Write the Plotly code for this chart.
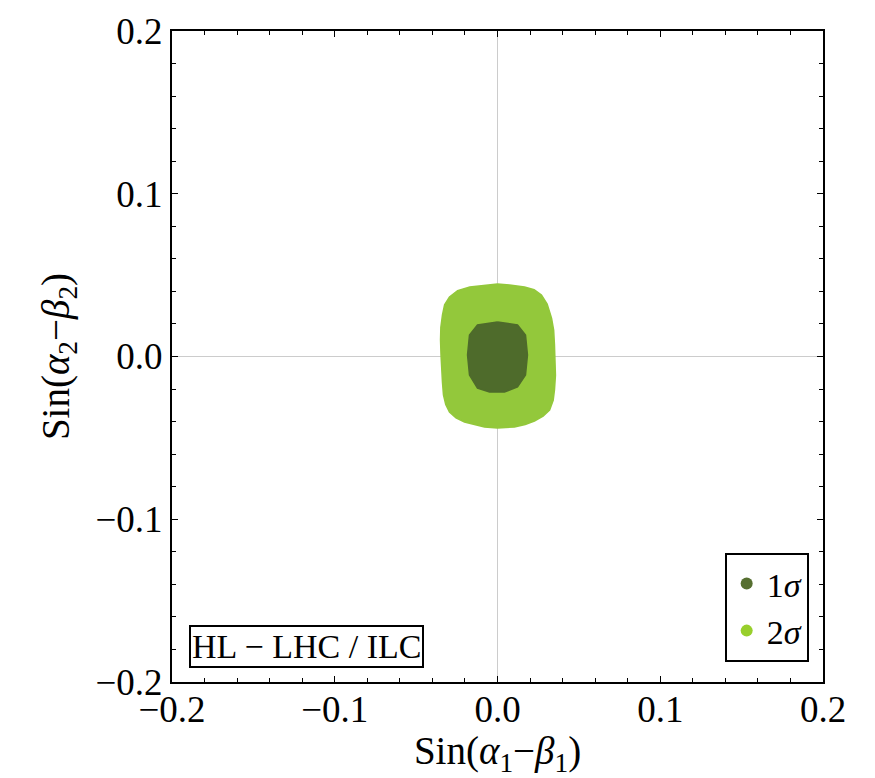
import plotly.graph_objects as go

# Outline of the 2-sigma allowed region (sin(a1-b1), sin(a2-b2))
outer_x = [0.0, -0.009, -0.017, -0.0245, -0.0295, -0.0325, -0.0338, -0.0348, -0.035, -0.0347,
           -0.0344, -0.0338, -0.0332, -0.0318, -0.0295, -0.0255, -0.0203, -0.014, -0.008,
           0.0, 0.0104, 0.017, 0.0227, 0.028, 0.032, 0.0342, 0.035, 0.0356, 0.0354, 0.035,
           0.0345, 0.0332, 0.0305, 0.027, 0.0225, 0.0166, 0.0074]
outer_y = [0.0445, 0.0437, 0.0427, 0.0405, 0.0366, 0.0318, 0.0255, 0.018, 0.0101, 0.001,
           -0.0083, -0.016, -0.0236, -0.0295, -0.0341, -0.0377, -0.0402, -0.042, -0.0433,
           -0.0439, -0.0433, -0.0418, -0.0396, -0.0367, -0.0329, -0.027, -0.0206, -0.0115,
           -0.0022, 0.007, 0.0163, 0.0235, 0.0322, 0.0378, 0.041, 0.0427, 0.0439]

# Outline of the 1-sigma allowed region
inner_x = [0.0, -0.0123, -0.0172, -0.0184, -0.0172, -0.0123, -0.0049, 0.0043, 0.0123, 0.0172,
           0.0184, 0.0172, 0.0123]
inner_y = [0.0212, 0.0194, 0.0132, 0.0009, -0.0114, -0.0194, -0.0218, -0.0218, -0.0187, -0.0114,
           0.0009, 0.0132, 0.0194]

tick_vals = [-0.2, -0.1, 0.0, 0.1, 0.2]
tick_text = ["\u22120.2", "\u22120.1", "0.0", "0.1", "0.2"]

c1 = "#4e6b2b"
c2 = "#93c83b"
font = "Liberation Serif"

fig = go.Figure()
fig.add_trace(go.Scatter(x=outer_x + outer_x[:1], y=outer_y + outer_y[:1], mode="lines",
                         fill="toself", fillcolor=c2, line=dict(color=c2, width=1.5),
                         showlegend=False, hoverinfo="skip"))
fig.add_trace(go.Scatter(x=inner_x + inner_x[:1], y=inner_y + inner_y[:1], mode="lines",
                         fill="toself", fillcolor=c1, line=dict(color=c1, width=1.5),
                         showlegend=False, hoverinfo="skip"))
# legend entries
fig.add_trace(go.Scatter(x=[None], y=[None], mode="markers", name="1<i>\u03c3</i>",
                         marker=dict(color="#566f30", size=13)))
fig.add_trace(go.Scatter(x=[None], y=[None], mode="markers", name="2<i>\u03c3</i>",
                         marker=dict(color="#98cf2c", size=13)))

axis_common = dict(
    range=[-0.2, 0.2], tickvals=tick_vals, ticktext=tick_text,
    ticks="inside", ticklen=6, tickwidth=1.2, tickcolor="black",
    minor=dict(dtick=0.02, ticks="inside", ticklen=4, tickwidth=1, tickcolor="black"),
    showline=True, linecolor="black", linewidth=2, mirror="ticks",
    showgrid=False, zeroline=True, zerolinecolor="#cccccc", zerolinewidth=1,
    tickfont=dict(family=font, size=37, color="black"),
)

fig.update_xaxes(**axis_common, ticklabelstandoff=-6,
                 title=dict(text="Sin(<i>\u03b1</i><sub>1</sub>\u2212<i>\u03b2</i><sub>1</sub>)",
                            font=dict(family=font, size=39, color="black"), standoff=8))
fig.update_yaxes(**axis_common,
                 title=dict(text="Sin(<i>\u03b1</i><sub>2</sub>\u2212<i>\u03b2</i><sub>2</sub>)",
                            font=dict(family=font, size=39, color="black"), standoff=14))

fig.add_annotation(xref="paper", yref="paper", x=0.206, y=0.054, xanchor="center",
                   yanchor="middle", text="HL \u2212 LHC / ILC",
                   showarrow=False, font=dict(family=font, size=34, color="black"),
                   bordercolor="black", borderwidth=2, borderpad=1, bgcolor="white")

fig.update_layout(
    width=875, height=778,
    margin=dict(l=172, r=52, t=31, b=96),
    plot_bgcolor="white", paper_bgcolor="white",
    legend=dict(x=0.978, y=0.031, xanchor="right", yanchor="bottom",
                bordercolor="black", borderwidth=2, bgcolor="white",
                font=dict(family=font, size=34, color="black"),
                itemsizing="constant", itemwidth=30),
)

fig.write_html("out.html")
